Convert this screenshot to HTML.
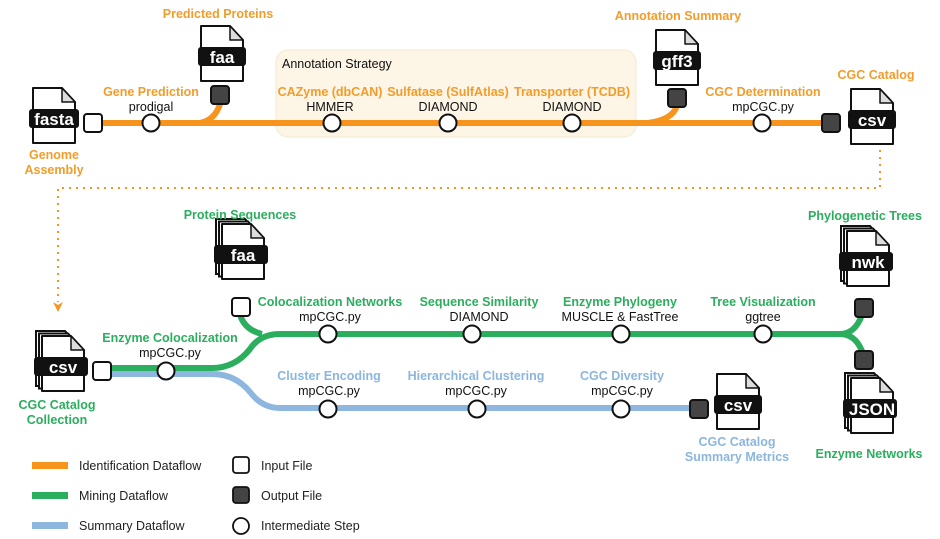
<!DOCTYPE html>
<html><head><meta charset="utf-8"><style>
html,body{margin:0;padding:0;background:#fff;}
svg{display:block;font-family:"Liberation Sans",Arial,sans-serif;}
.t{font-weight:bold;font-size:12.5px;text-anchor:middle;}
.o{fill:#F39C2A;}.g{fill:#2BAE5E;}.b{fill:#8BB6DE;}
.k{font-size:12.5px;text-anchor:middle;fill:#111;}
.ft{font-weight:bold;font-size:17px;fill:#fff;text-anchor:middle;}
.lg{font-size:12.5px;fill:#222;}
</style></head><body>
<svg width="940" height="539" viewBox="0 0 940 539">
<defs>
<g id="page">
<path d="M0,0 H29 L42,14 V55 H0 Z" fill="#fff" stroke="#111" stroke-width="2" stroke-linejoin="round"/>
<path d="M29,0 V14 H42 Z" fill="#ddd" stroke="#111" stroke-width="1.5" stroke-linejoin="round"/>
</g>
<g id="stack">
<path d="M-6,-5 H23 L36,9 V50 H-6 Z" fill="#fff" stroke="#111" stroke-width="2"/>
<path d="M-3,-2.5 H26 L39,11.5 V52.5 H-3 Z" fill="#fff" stroke="#111" stroke-width="2"/>
<use href="#page"/>
</g>
</defs>

<rect x="276" y="50" width="360" height="87" rx="12" fill="#FDF5E6" stroke="#F4E9D2"/>
<text x="282" y="68" style="font-size:12.5px;fill:#111">Annotation Strategy</text>

<g fill="none" stroke="#F7941D" stroke-width="6">
<path d="M102,123 H830"/>
<path d="M200,123 Q215,120 220,104"/>
<path d="M648,123 Q672,120 677,106"/>
</g>
<path d="M880,150 V188 H58 V302" fill="none" stroke="#F7941D" stroke-width="2" stroke-dasharray="2,5"/>
<path d="M53,302 L58,312 L63,302 L58,305 Z" fill="#F7941D"/>

<rect x="84" y="114" width="18" height="18" rx="3" fill="#fff" stroke="#111" stroke-width="2"/>
<rect x="211" y="86" width="18" height="18" rx="3" fill="#444" stroke="#111" stroke-width="2"/>
<rect x="668" y="89" width="18" height="18" rx="3" fill="#444" stroke="#111" stroke-width="2"/>
<rect x="822" y="114" width="18" height="18" rx="3" fill="#444" stroke="#111" stroke-width="2"/>
<g fill="#fff" stroke="#111" stroke-width="2">
<circle cx="151" cy="123" r="8.5"/><circle cx="332" cy="123" r="8.5"/><circle cx="448" cy="123" r="8.5"/><circle cx="572" cy="123" r="8.5"/><circle cx="762" cy="123" r="8.5"/>
</g>

<g transform="translate(33,88)"><use href="#page"/><rect x="-4" y="21" width="50" height="19" rx="3" fill="#111"/><text x="21" y="37" class="ft">fasta</text></g>
<g transform="translate(201,26)"><use href="#page"/><rect x="-3" y="21" width="48" height="19" rx="3" fill="#111"/><text x="21" y="37" class="ft">faa</text></g>
<g transform="translate(656,30)"><use href="#page"/><rect x="-3" y="21" width="48" height="19" rx="3" fill="#111"/><text x="21" y="37" class="ft">gff3</text></g>
<g transform="translate(851,89)"><use href="#page"/><rect x="-3" y="21" width="48" height="19" rx="3" fill="#111"/><text x="21" y="37" class="ft">csv</text></g>

<text x="218" y="18" class="t o">Predicted Proteins</text>
<text x="678" y="20" class="t o">Annotation Summary</text>
<text x="876" y="79" class="t o">CGC Catalog</text>
<text x="151" y="96" class="t o">Gene Prediction</text><text x="151" y="111" class="k">prodigal</text>
<text x="330" y="96" class="t o">CAZyme (dbCAN)</text><text x="330" y="111" class="k">HMMER</text>
<text x="448" y="96" class="t o">Sulfatase (SulfAtlas)</text><text x="448" y="111" class="k">DIAMOND</text>
<text x="572" y="96" class="t o">Transporter (TCDB)</text><text x="572" y="111" class="k">DIAMOND</text>
<text x="763" y="96" class="t o">CGC Determination</text><text x="763" y="111" class="k">mpCGC.py</text>
<text x="54" y="159" class="t o">Genome</text><text x="54" y="174" class="t o">Assembly</text>

<g fill="none" stroke-width="6">
<path d="M111,374 H212 Q235,374 250,392 Q262,408 280,408 H692" stroke="#8DB7DF"/>
<path d="M111,368 H212 Q235,368 250,349 Q260,334 280,334 H840 Q855,334 862,315" stroke="#2BAE5E"/>
<path d="M240,315 Q245,330 262,334" stroke="#2BAE5E"/>
<path d="M840,334 Q855,334 862,351" stroke="#2BAE5E"/>
</g>
<rect x="93" y="362" width="18" height="18" rx="3" fill="#fff" stroke="#111" stroke-width="2"/>
<rect x="232" y="298" width="18" height="18" rx="3" fill="#fff" stroke="#111" stroke-width="2"/>
<rect x="690" y="400" width="18" height="18" rx="3" fill="#444" stroke="#111" stroke-width="2"/>
<rect x="855" y="299" width="18" height="18" rx="3" fill="#444" stroke="#111" stroke-width="2"/>
<rect x="855" y="351" width="18" height="18" rx="3" fill="#444" stroke="#111" stroke-width="2"/>
<g fill="#fff" stroke="#111" stroke-width="2">
<circle cx="166" cy="371" r="8.5"/>
<circle cx="328" cy="334" r="8.5"/><circle cx="472" cy="334" r="8.5"/><circle cx="621" cy="334" r="8.5"/><circle cx="763" cy="334" r="8.5"/>
<circle cx="328" cy="409" r="8.5"/><circle cx="477" cy="409" r="8.5"/><circle cx="621" cy="409" r="8.5"/>
</g>

<g transform="translate(42,336)"><use href="#stack"/><rect x="-8" y="21" width="54" height="19" rx="3" fill="#111"/><text x="21" y="37" class="ft">csv</text></g>
<g transform="translate(222,224)"><use href="#stack"/><rect x="-8" y="21" width="54" height="19" rx="3" fill="#111"/><text x="21" y="37" class="ft">faa</text></g>
<g transform="translate(847,231)"><use href="#stack"/><rect x="-8" y="21" width="54" height="19" rx="3" fill="#111"/><text x="21" y="37" class="ft">nwk</text></g>
<g transform="translate(851,378)"><use href="#stack"/><rect x="-8" y="21" width="54" height="19" rx="3" fill="#111"/><text x="21" y="37" class="ft">JSON</text></g>
<g transform="translate(717,374)"><use href="#page"/><rect x="-3" y="21" width="48" height="19" rx="3" fill="#111"/><text x="21" y="37" class="ft">csv</text></g>

<text x="240" y="219" class="t g">Protein Sequences</text>
<text x="865" y="220" class="t g">Phylogenetic Trees</text>
<text x="57" y="409" class="t g">CGC Catalog</text><text x="57" y="424" class="t g">Collection</text>
<text x="170" y="342" class="t g">Enzyme Colocalization</text><text x="170" y="357" class="k">mpCGC.py</text>
<text x="330" y="306" class="t g">Colocalization Networks</text><text x="330" y="321" class="k">mpCGC.py</text>
<text x="479" y="306" class="t g">Sequence Similarity</text><text x="479" y="321" class="k">DIAMOND</text>
<text x="620" y="306" class="t g">Enzyme Phylogeny</text><text x="620" y="321" class="k">MUSCLE &amp; FastTree</text>
<text x="763" y="306" class="t g">Tree Visualization</text><text x="763" y="321" class="k">ggtree</text>
<text x="329" y="380" class="t b">Cluster Encoding</text><text x="329" y="395" class="k">mpCGC.py</text>
<text x="476" y="380" class="t b">Hierarchical Clustering</text><text x="476" y="395" class="k">mpCGC.py</text>
<text x="622" y="380" class="t b">CGC Diversity</text><text x="622" y="395" class="k">mpCGC.py</text>
<text x="737" y="446" class="t b">CGC Catalog</text><text x="737" y="461" class="t b">Summary Metrics</text>
<text x="869" y="458" class="t g">Enzyme Networks</text>

<rect x="32" y="462" width="36" height="7" fill="#F7941D"/>
<rect x="32" y="492" width="36" height="7" fill="#2BAE5E"/>
<rect x="32" y="522" width="36" height="7" fill="#8DB7DF"/>
<text x="79" y="470" class="lg">Identification Dataflow</text>
<text x="79" y="500" class="lg">Mining Dataflow</text>
<text x="79" y="530" class="lg">Summary Dataflow</text>
<rect x="233" y="457" width="16" height="16" rx="3" fill="#fff" stroke="#111" stroke-width="1.8"/>
<rect x="233" y="487" width="16" height="16" rx="3" fill="#444" stroke="#111" stroke-width="1.8"/>
<circle cx="241" cy="526" r="8" fill="#fff" stroke="#111" stroke-width="1.8"/>
<text x="261" y="470" class="lg">Input File</text>
<text x="261" y="500" class="lg">Output File</text>
<text x="261" y="530" class="lg">Intermediate Step</text>
</svg>
</body></html>
